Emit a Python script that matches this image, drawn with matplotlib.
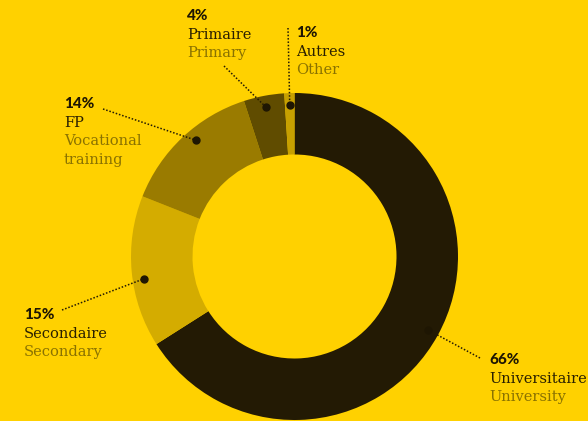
import numpy as np
import matplotlib.pyplot as plt

# education level shares (%), clockwise from 12 o'clock
labels_fr = ["Universitaire", "Secondaire", "FP", "Primaire", "Autres"]
labels_en = [["University"], ["Secondary"], ["Vocational", "training"],
             ["Primary"], ["Other"]]
shares = [66, 15, 14, 4, 1]
colors = ["#231a04", "#d4ac00", "#9a7b00", "#604c00", "#c7a000"]

BG = "#ffd100"
W, H = 588, 421
cx, cy = 294.5, 256.5
R_OUT, R_IN = 163.5, 102
STEP = 18.6

# label layout in pixel coords: text left x, first line centre y, leader start
label_pos = [(489, 360), (24, 315), (64, 104), (187, 16), (296, 33)]
leader_start = [(480, 358), (62, 310), (103, 109), (224, 66), (288, 28)]
angle_nudge = [0, -3, 3, 0, 0]  # degrees, shift of the anchor dot


def py(y):
    return H - y


fig = plt.figure(figsize=(W / 100, H / 100), dpi=100, facecolor=BG)
ax = fig.add_axes([0, 0, 1, 1])
ax.set_facecolor(BG)

ax.pie(shares, colors=colors, startangle=90, counterclock=False,
       center=(cx, py(cy)), radius=R_OUT,
       wedgeprops=dict(width=R_OUT - R_IN, linewidth=0))

total = sum(shares)
start = 0.0
for i, s in enumerate(shares):
    mid = start + s / total * 360 / 2 + angle_nudge[i]
    start += s / total * 360
    a = np.deg2rad(90 - mid)
    dx = cx + 152 * np.cos(a)
    dy = py(cy) + 152 * np.sin(a)
    sx, sy = leader_start[i]
    ax.plot([sx, dx], [py(sy), dy], color="#231a04", lw=1.1,
            linestyle=(0, (1, 1.2)), zorder=3)
    ax.plot(dx, dy, "o", color="#1e1603", ms=5, zorder=4)

    tx, ty = label_pos[i]
    ax.text(tx, py(ty), f"{s}%", family="Lato", fontweight=900,
            fontsize=11, color="#1e1603", va="center", ha="left")
    ax.text(tx, py(ty + STEP), labels_fr[i], family="DejaVu Serif",
            fontsize=10.5, color="#2a2000", va="center", ha="left")
    for j, line in enumerate(labels_en[i]):
        ax.text(tx, py(ty + STEP * (2 + j)), line, family="DejaVu Serif",
                fontsize=10.5, color="#8a7200", va="center", ha="left")

ax.set_xlim(0, W)
ax.set_ylim(0, H)
ax.set_aspect("equal")
ax.axis("off")
fig.savefig("out.png", dpi=100, facecolor=BG)
